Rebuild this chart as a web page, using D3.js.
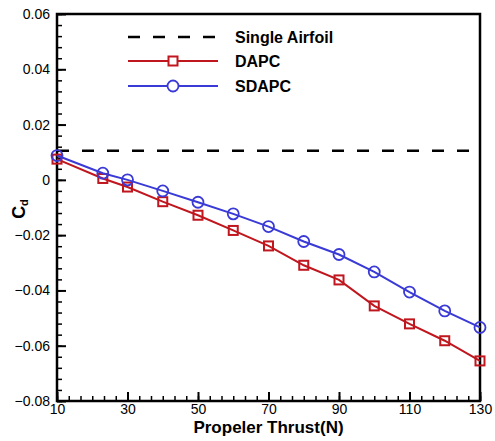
<!DOCTYPE html>
<html>
<head>
<meta charset="utf-8">
<script src="https://cdn.jsdelivr.net/npm/d3@7"></script>
<style>
  body { margin: 0; background: #fff; }
  text { font-family: "Liberation Sans", Arial, sans-serif; }
</style>
</head>
<body>
<div id="chart"></div>
<script>
// data
var thrust = [10, 23, 30, 40, 50, 60, 70, 80, 90, 100, 110, 120, 130];
var dapc   = [0.0075, 0.0005, -0.0026, -0.0079, -0.0128, -0.0183, -0.0239, -0.0309, -0.0362, -0.0456, -0.0521, -0.0582, -0.0655];
var sdapc  = [0.0088, 0.0024, 0.0000, -0.0040, -0.0081, -0.0123, -0.0169, -0.0223, -0.0270, -0.0333, -0.0406, -0.0474, -0.0534];
var singleAirfoil = 0.0105;
var xTicks = [10, 30, 50, 70, 90, 110, 130];
var yTicks = [-0.08, -0.06, -0.04, -0.02, 0, 0.02, 0.04, 0.06];

var red = "#c0161e", blue = "#3a3ad6";

var margin = {left: 57, top: 14, right: 15, bottom: 40};
var width = 480 - margin.left;
var height = 401 - margin.top;

var svg = d3.select("#chart")
    .append("svg")
    .attr("width", 495)
    .attr("height", 441);

var inner = svg.append("g")
    .attr("transform", "translate(" + margin.left + "," + margin.top + ")");

var x = d3.scaleLinear().domain([10, 130]).range([0, width]);
var y = d3.scaleLinear().domain([-0.08, 0.06]).range([height, 0]);

// minor ticks
var xMinor = d3.range(0, 37).map(function (i) { return 10 + i * 20 / 6; });
var yMinor = d3.range(0, 36).map(function (i) { return -0.08 + i * 0.004; });

inner.append("g")
    .attr("transform", "translate(0," + height + ")")
    .call(d3.axisBottom(x).tickValues(xMinor).tickSize(-5).tickFormat(""))
    .call(function (g) { g.select(".domain").remove(); g.selectAll("line").attr("stroke", "#000").attr("stroke-width", 1.5); });

inner.append("g")
    .call(d3.axisLeft(y).tickValues(yMinor).tickSize(-5).tickFormat(""))
    .call(function (g) { g.select(".domain").remove(); g.selectAll("line").attr("stroke", "#000").attr("stroke-width", 1.5); });

// major ticks + labels
inner.append("g")
    .attr("transform", "translate(0," + height + ")")
    .call(d3.axisBottom(x).tickValues(xTicks).tickSize(-9).tickPadding(3).tickFormat(d3.format("d")))
    .call(function (g) {
        g.select(".domain").remove();
        g.selectAll("line").attr("stroke", "#000").attr("stroke-width", 2);
        g.selectAll("text").attr("font-size", 14).attr("fill", "#000")
            .attr("font-family", "Liberation Sans, Arial, sans-serif");
    });

inner.append("g")
    .call(d3.axisLeft(y).tickValues(yTicks).tickSize(-9).tickPadding(7)
        .tickFormat(function (d) { return d === 0 ? "0" : d3.format(".2f")(d); }))
    .call(function (g) {
        g.select(".domain").remove();
        g.selectAll("line").attr("stroke", "#000").attr("stroke-width", 2);
        g.selectAll("text").attr("font-size", 14).attr("fill", "#000")
            .attr("font-family", "Liberation Sans, Arial, sans-serif");
    });

// frame
inner.append("rect")
    .attr("width", width).attr("height", height)
    .attr("fill", "none").attr("stroke", "#000").attr("stroke-width", 2.5);

// single airfoil reference
inner.append("line")
    .attr("x1", x(10)).attr("x2", x(130))
    .attr("y1", y(singleAirfoil)).attr("y2", y(singleAirfoil))
    .attr("stroke", "#000").attr("stroke-width", 2.5)
    .attr("stroke-dasharray", "12,13");

var line = d3.line()
    .x(function (d, i) { return x(thrust[i]); })
    .y(function (d) { return y(d); });

// DAPC
inner.append("path")
    .attr("d", line(dapc))
    .attr("fill", "none").attr("stroke", red).attr("stroke-width", 2);
inner.append("g").selectAll("rect")
    .data(dapc).enter().append("rect")
    .attr("x", function (d, i) { return x(thrust[i]) - 4.5; })
    .attr("y", function (d) { return y(d) - 4.5; })
    .attr("width", 9).attr("height", 9)
    .attr("fill", "none").attr("stroke", red).attr("stroke-width", 2);

// SDAPC
inner.append("path")
    .attr("d", line(sdapc))
    .attr("fill", "none").attr("stroke", blue).attr("stroke-width", 2);
inner.append("g").selectAll("circle")
    .data(sdapc).enter().append("circle")
    .attr("cx", function (d, i) { return x(thrust[i]); })
    .attr("cy", function (d) { return y(d); })
    .attr("r", 5.5)
    .attr("fill", "none").attr("stroke", blue).attr("stroke-width", 1.8);

// legend
var legend = [
    {label: "Single Airfoil", colour: "#000", dash: "12,13", marker: null, y: 37},
    {label: "DAPC", colour: red, dash: null, marker: "square", y: 61},
    {label: "SDAPC", colour: blue, dash: null, marker: "circle", y: 86}
];
var lg = svg.append("g");
legend.forEach(function (d) {
    lg.append("line")
        .attr("x1", 128).attr("x2", 218).attr("y1", d.y).attr("y2", d.y)
        .attr("stroke", d.colour).attr("stroke-width", d.dash ? 2.5 : 2)
        .attr("stroke-dasharray", d.dash);
    if (d.marker === "square") {
        lg.append("rect").attr("x", 168.5).attr("y", d.y - 4.5).attr("width", 9).attr("height", 9)
            .attr("fill", "#fff").attr("stroke", d.colour).attr("stroke-width", 2);
    } else if (d.marker === "circle") {
        lg.append("circle").attr("cx", 173).attr("cy", d.y).attr("r", 5.5)
            .attr("fill", "#fff").attr("stroke", d.colour).attr("stroke-width", 1.8);
    }
    lg.append("text")
        .attr("x", 235).attr("y", d.y + 6)
        .attr("font-size", 16).attr("font-weight", "bold")
        .text(d.label);
});

// axis titles
svg.append("text")
    .attr("x", margin.left + width / 2).attr("y", 433)
    .attr("text-anchor", "middle")
    .attr("font-size", 17).attr("font-weight", "bold")
    .text("Propeler Thrust(N)");

var yt = svg.append("text")
    .attr("transform", "translate(25,209) rotate(-90)")
    .attr("text-anchor", "middle")
    .attr("font-size", 18).attr("font-weight", "bold");
yt.append("tspan").text("C");
yt.append("tspan").attr("font-size", 11).attr("dy", 3).text("d");
</script>
</body>
</html>
